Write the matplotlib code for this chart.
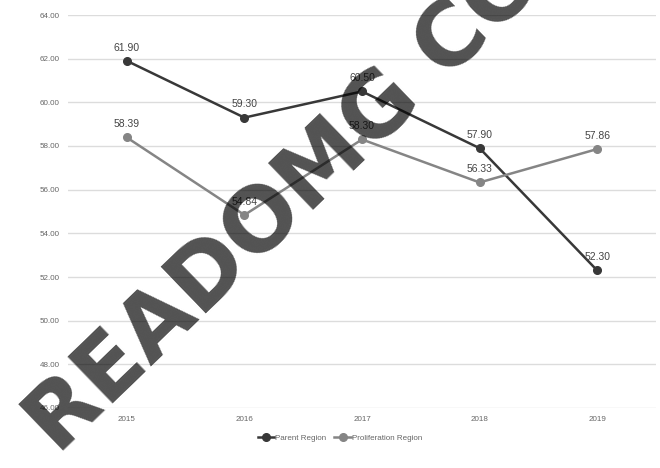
import matplotlib
matplotlib.use("Agg")
import matplotlib.pyplot as plt

years = ["2015", "2016", "2017", "2018", "2019"]
parent = [61.90, 59.30, 60.50, 57.90, 52.30]
prolif = [58.39, 54.84, 58.30, 56.33, 57.86]
yticks = [46, 48, 50, 52, 54, 56, 58, 60, 62, 64]

plt.rcParams['font.family'] = ['Liberation Sans', 'DejaVu Sans']
fig = plt.figure(figsize=(6.6, 4.68), dpi=100)
ax = fig.add_axes([68/660, 1-408/468, (656-68)/660, (408-15)/468])

x = list(range(len(years)))
c_par = '#383838'
c_pro = '#858585'
ax.plot(x, parent, color=c_par, lw=1.8, marker='o', ms=5.5, label='Parent Region', zorder=3)
ax.plot(x, prolif, color=c_pro, lw=1.8, marker='o', ms=5.5, label='Proliferation Region', zorder=3)

for xi, v in zip(x, parent):
    ax.annotate(f"{v:.2f}", (xi, v), xytext=(0, 6), textcoords='offset points',
                ha='center', va='bottom', fontsize=7.5, color='#444444')
for xi, v in zip(x, prolif):
    ax.annotate(f"{v:.2f}", (xi, v), xytext=(0, 6), textcoords='offset points',
                ha='center', va='bottom', fontsize=7.5, color='#444444')

ax.set_xlim(-0.5, len(years) - 0.5)
ax.set_ylim(46, 64)
ax.set_yticks(yticks)
ax.set_yticklabels([f"{t:.2f}" for t in yticks], fontsize=5.8, color='#666666')
ax.set_xticks(x)
ax.set_xticklabels(years, fontsize=5.8, color='#666666')
ax.grid(axis='y', color='#dcdcdc', lw=1)
ax.set_axisbelow(True)
for s in ax.spines.values():
    s.set_visible(False)
ax.tick_params(length=0, pad=6)

leg = fig.legend(loc='center', bbox_to_anchor=(340/660, 1-438/468), ncol=2, frameon=False,
                 fontsize=5.8, handlelength=2, columnspacing=1.0, handletextpad=0.2,
                 labelcolor='#666666')

fig.text(58/660, 1-456/468, "READOMG COM", rotation=44, rotation_mode='anchor',
         ha='left', va='baseline', fontsize=64, fontweight='bold', color='#000000',
         alpha=0.68, family='DejaVu Sans', zorder=10)

fig.savefig("out.png", dpi=100, facecolor='white')
